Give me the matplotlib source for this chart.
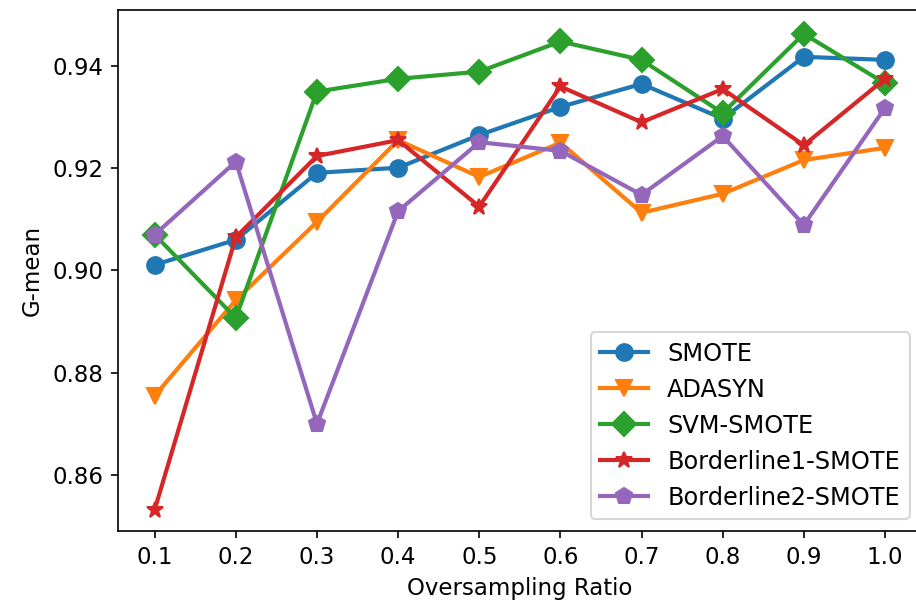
import matplotlib
matplotlib.use("Agg")
import matplotlib.pyplot as plt

ratios = [0.1, 0.2, 0.3, 0.4, 0.5, 0.6, 0.7, 0.8, 0.9, 1.0]

smote = [0.9011, 0.9060, 0.9191, 0.9201, 0.9265, 0.9320, 0.9365, 0.9297, 0.9418, 0.9412]
adasyn = [0.8755, 0.8942, 0.9095, 0.9255, 0.9183, 0.9250, 0.9113, 0.9150, 0.9216, 0.9240]
svm_smote = [0.9070, 0.8907, 0.9350, 0.9375, 0.9389, 0.9448, 0.9412, 0.9308, 0.9463, 0.9366]
border1 = [0.8532, 0.9065, 0.9224, 0.9255, 0.9125, 0.9360, 0.9290, 0.9355, 0.9245, 0.9375]
border2 = [0.9070, 0.9213, 0.8700, 0.9116, 0.9251, 0.9234, 0.9148, 0.9263, 0.9089, 0.9318]

series = [
    ("SMOTE", smote, "o", "#1f77b4"),
    ("ADASYN", adasyn, "v", "#ff7f0e"),
    ("SVM-SMOTE", svm_smote, "D", "#2ca02c"),
    ("Borderline1-SMOTE", border1, "*", "#d62728"),
    ("Borderline2-SMOTE", border2, "p", "#9467bd"),
]

fig = plt.figure(figsize=(916 / 150, 607 / 150), dpi=150)
# axes run slightly past the right edge, as in the cropped original
ax = fig.add_axes([0.129, 0.125, 0.877, 0.858])

for name, vals, mk, col in series:
    ax.plot(ratios, vals, marker=mk, color=col, label=name, linewidth=2, markersize=8)

ax.set_xticks(ratios)
ax.set_xlim(0.055, 1.045)
ax.set_ylim(0.8490, 0.9509)
ax.set_yticks([0.86, 0.88, 0.90, 0.92, 0.94])
ax.tick_params(labelsize=11, length=3.5)
ax.set_xlabel("Oversampling Ratio", fontsize=11)
ax.set_ylabel("G-mean", fontsize=11)
ax.legend(loc="lower right", fontsize=11.5)

fig.savefig("out.png", dpi=150)
